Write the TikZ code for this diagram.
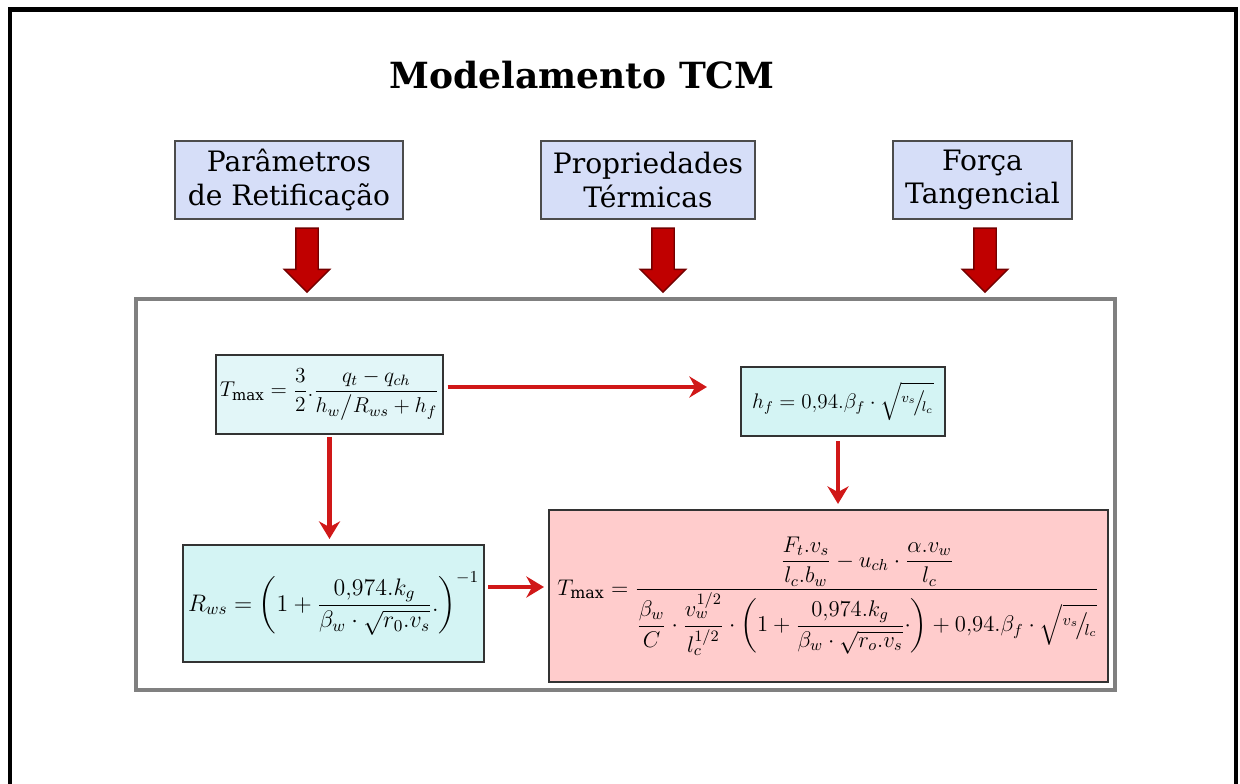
\RequirePackage{fix-cm}
\documentclass[tikz,border=0pt]{standalone}
\usepackage{amsmath,amssymb}
\usepackage{fontspec}
\setmainfont{DejaVu Serif}
\usetikzlibrary{arrows.meta,positioning,calc,shapes.arrows}
\definecolor{topfill}{HTML}{D6DEF8}
\definecolor{eqfill}{HTML}{D4F4F4}
\definecolor{dotfill}{HTML}{E2F6F8}
\definecolor{resfill}{HTML}{FFCCCC}
\definecolor{flow}{HTML}{D01818}
\definecolor{blockred}{HTML}{C00000}
\definecolor{rule}{gray}{0.5}

\begin{document}
\begin{tikzpicture}[
  topbox/.style={draw=black!70,line width=1pt,fill=topfill,align=center,
    font=\fontsize{16}{19}\selectfont,inner sep=0pt},
  eqbox/.style={draw=black!80,line width=1.2pt,fill=eqfill,inner sep=0pt},
  flowarrow/.style={draw=flow,line width=2.4pt,-{Stealth[length=10pt,width=12pt]}},
  bigdown/.style={single arrow,draw=blockred!60!black,fill=blockred,line width=0.8pt,
    rotate=-90,minimum height=1.28cm,inner sep=0.21cm,single arrow head extend=0.23cm}
]
\useasboundingbox (0,0) rectangle (24.8,-15.68);
% frame, open at the bottom
\draw[line width=2.4pt] (0.2,-15.9)--(0.2,-0.19)--(24.72,-0.19)--(24.72,-15.9);

\node[font=\fontsize{20.5}{24}\selectfont\bfseries] (title) at (11.64,-1.5) {Modelamento TCM};

\node[topbox,minimum width=4.56cm,minimum height=1.56cm] (param) at (5.78,-3.6) {Parâmetros\\de Retificação};
\node[topbox,minimum width=4.28cm,minimum height=1.56cm] (prop) at (12.96,-3.6) {Propriedades\\Térmicas};
\node[topbox,minimum width=3.58cm,minimum height=1.56cm] (forca) at (19.65,-3.6) {Força\\Tangencial};

\node[bigdown] (arrA) at (6.14,-5.09) {};
\node[bigdown] (arrB) at (13.26,-5.09) {};
\node[bigdown] (arrC) at (19.7,-5.09) {};

\draw[draw=rule,line width=1.8pt,fill=white] (2.72,-5.98) rectangle (22.3,-13.8);

\node[eqbox,fill=dotfill,minimum width=4.54cm,minimum height=1.58cm,font=\fontsize{12.2}{14}\selectfont] (tmax) at (6.59,-7.89)
  {$T_{\max}=\dfrac{3}{2}.\dfrac{q_t-q_{ch}}{h_w\big/R_{ws}+h_f}$};
\node[eqbox,minimum width=4.08cm,minimum height=1.38cm,font=\fontsize{12}{14}\selectfont] (hf) at (16.86,-8.03)
  {$h_f=0{,}94.\beta_f\cdot\sqrt{{}^{v_s}\!\big/\!{}_{l_c}}$};
\node[eqbox,minimum width=6.02cm,minimum height=2.34cm,font=\fontsize{13.6}{16}\selectfont] (rws) at (6.67,-12.07)
  {$R_{ws}=\left(1+\dfrac{0{,}974.k_g}{\beta_w\cdot\sqrt{r_0.v_s}}.\right)^{-1}$};
\node[eqbox,fill=resfill,minimum width=11.18cm,minimum height=3.44cm,font=\fontsize{12.9}{15}\selectfont] (tfull) at (16.57,-11.92)
  {$T_{\max}=\dfrac{\dfrac{F_t.v_s}{l_c.b_w}-u_{ch}\cdot\dfrac{\alpha.v_w}{l_c}}
   {\dfrac{\beta_w}{C}\cdot\dfrac{v_w^{1/2}}{l_c^{1/2}}\cdot\left(1+\dfrac{0{,}974.k_g}{\beta_w\cdot\sqrt{r_o.v_s}}\cdot\right)+0{,}94.\beta_f\cdot\sqrt{{}^{v_s}\!\big/\!{}_{l_c}}}$};

\draw[flowarrow,shorten <=2pt,shorten >=0.66cm] ([yshift=0.15cm]tmax.east) -- ([yshift=0.15cm]tmax.east -| hf.west);
\draw[flowarrow,shorten <=1pt,shorten >=0.1cm] (tmax.south) -- (tmax.south |- rws.north);
\draw[flowarrow,shorten <=0.08cm,shorten >=0.1cm] ([xshift=-0.1cm]hf.south) -- ([xshift=-0.1cm]hf.south |- tfull.north);
\draw[flowarrow,shorten <=0.06cm,shorten >=0.08cm] ([yshift=0.33cm]rws.east) -- ([yshift=0.33cm]rws.east -| tfull.west);
\end{tikzpicture}
\end{document}
